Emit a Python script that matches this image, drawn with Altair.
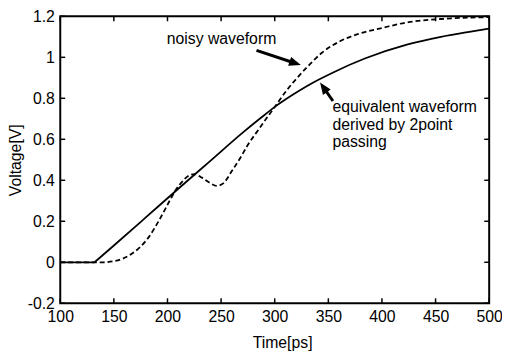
import math
import altair as alt
import pandas as pd

# ---- data ----
t_solid = [100, 132, 150, 180, 209, 240, 271, 286, 301, 316, 331, 354, 384, 424, 455, 480, 500]
v_solid = [0, 0, 0.082, 0.22, 0.354, 0.495, 0.636, 0.70, 0.762, 0.815, 0.863, 0.925, 0.994, 1.063, 1.100, 1.123, 1.140]

t_noisy = [100, 140, 150, 166, 182, 194, 202, 208, 214, 219, 225, 232, 239, 246, 252, 260, 268,
           275, 286, 292, 301, 311, 323, 332, 344, 360, 378, 400, 424, 455, 500]
v_noisy = [0, 0, 0.005, 0.039, 0.119, 0.222, 0.30, 0.355, 0.395, 0.42, 0.43, 0.413, 0.389, 0.373, 0.385, 0.445, 0.51,
           0.573, 0.655, 0.70, 0.765, 0.838, 0.912, 0.962, 1.022, 1.076, 1.114, 1.143, 1.171, 1.187, 1.196]

x_ticks = [100, 150, 200, 250, 300, 350, 400, 450, 500]
y_ticks = [-0.2, 0, 0.2, 0.4, 0.6, 0.8, 1.0, 1.2]

ann_text = ["noisy waveform", "equivalent waveform", "derived by 2point", "passing"]
ann_t = [199.3, 353.8, 353.8, 353.8]
ann_v = [1.066, 0.732, 0.647, 0.564]

arrow_tail_t = [283.0, 354.3]
arrow_tail_v = [1.034, 0.787]
arrow_tip_t = [324.4, 342.3]
arrow_tip_v = [0.962, 0.877]

# ---- layout ----
W, H = 435, 291
XD = [100, 500]
YD = [-0.2, 1.2]
FONT = "Liberation Sans"
HEAD = 6.0  # px from tip to head centre

pxx = W / (XD[1] - XD[0])
pxy = H / (YD[1] - YD[0])
rows = []
for a, b, c, d in zip(arrow_tail_t, arrow_tail_v, arrow_tip_t, arrow_tip_v):
    dx = (c - a) * pxx
    dy = -(d - b) * pxy
    L = math.hypot(dx, dy)
    ux, uy = dx / L, dy / L
    hx = c - ux * HEAD / pxx
    hy = d + uy * HEAD / pxy
    ang = math.degrees(math.atan2(dy, dx)) % 360
    rows.append({"t": a, "v": b, "t2": hx, "v2": hy, "ang": ang})
arrows = pd.DataFrame(rows)

# solid waveform: flat part and ramp part drawn as two pieces (sharp corner at start of ramp)
seg = ["flat" if t <= t_solid[1] else "ramp" for t in t_solid]
solid = pd.DataFrame({"t": t_solid, "v": v_solid, "seg": seg})
corner = pd.DataFrame({"t": [t_solid[1]], "v": [v_solid[1]], "seg": ["ramp"]})
solid = pd.concat([solid, corner], ignore_index=True).sort_values(["seg", "t"])
noisy = pd.DataFrame({"t": t_noisy, "v": v_noisy})
ann = pd.DataFrame({"t": ann_t, "v": ann_v, "label": ann_text})
xt = pd.DataFrame({"t": x_ticks})
yt = pd.DataFrame({"v": y_ticks})

xaxis = alt.Axis(values=x_ticks, ticks=False, domain=False, grid=False, labelFlush=False,
                 labelOverlap=False, labelPadding=6, title="Time[ps]", titlePadding=10, titleX=225)
yaxis = alt.Axis(values=y_ticks, ticks=False, domain=False, grid=False, labelFlush=False,
                 labelOverlap=False, labelPadding=6, title="Voltage[V]", titlePadding=4,
                 labelExpr="replace(format(datum.value, '.1~f'), '\u2212', '-')")
X = alt.X("t:Q", scale=alt.Scale(domain=XD, nice=False, zero=False), axis=xaxis)
Y = alt.Y("v:Q", scale=alt.Scale(domain=YD, nice=False, zero=False), axis=yaxis)

l_solid = alt.Chart(solid).mark_line(color="black", strokeWidth=1.8, interpolate="monotone").encode(
    x=X, y=Y, detail="seg:N", order="t:Q")
l_noisy = alt.Chart(noisy).mark_line(color="black", strokeWidth=1.8, strokeDash=[5, 3],
                                     interpolate="monotone").encode(x=X, y=Y)

tb = alt.Chart(xt).mark_rule(color="black", strokeWidth=1.5).encode(x=X, y=alt.value(H), y2=alt.value(H - 5))
tt = alt.Chart(xt).mark_rule(color="black", strokeWidth=1.5).encode(x=X, y=alt.value(0), y2=alt.value(5))
tl = alt.Chart(yt).mark_rule(color="black", strokeWidth=1.5).encode(y=Y, x=alt.value(0), x2=alt.value(5))
tr = alt.Chart(yt).mark_rule(color="black", strokeWidth=1.5).encode(y=Y, x=alt.value(W), x2=alt.value(W - 5))

txt = alt.Chart(ann).mark_text(align="left", baseline="alphabetic", font=FONT, fontSize=16,
                               color="black").encode(x=X, y=Y, text="label:N")

a_line = alt.Chart(arrows).mark_rule(color="black", strokeWidth=3).encode(x=X, y=Y, x2="t2:Q", y2="v2:Q")
a_head = alt.Chart(arrows).mark_point(shape="M1,0L-1,-0.8L-1,0.8Z", filled=True, color="black",
                                      opacity=1, size=144).encode(
    x=alt.X("t2:Q", scale=alt.Scale(domain=XD, nice=False, zero=False), axis=xaxis),
    y=alt.Y("v2:Q", scale=alt.Scale(domain=YD, nice=False, zero=False), axis=yaxis),
    angle=alt.Angle("ang:Q", scale=None))

chart = alt.layer(l_solid, l_noisy, tb, tt, tl, tr, txt, a_line, a_head).properties(
    width=W, height=H,
    autosize=alt.AutoSizeParams(type="none"),
    padding={"left": 53, "top": 6, "right": 13, "bottom": 48},
).configure(background="white").configure_view(stroke="black", strokeWidth=2).configure_axis(
    labelFont=FONT, labelFontSize=16, labelColor="black",
    titleFont=FONT, titleFontSize=16, titleFontWeight="normal", titleColor="black",
)

chart.save("out.html", embed_options={"renderer": "svg", "actions": False})
